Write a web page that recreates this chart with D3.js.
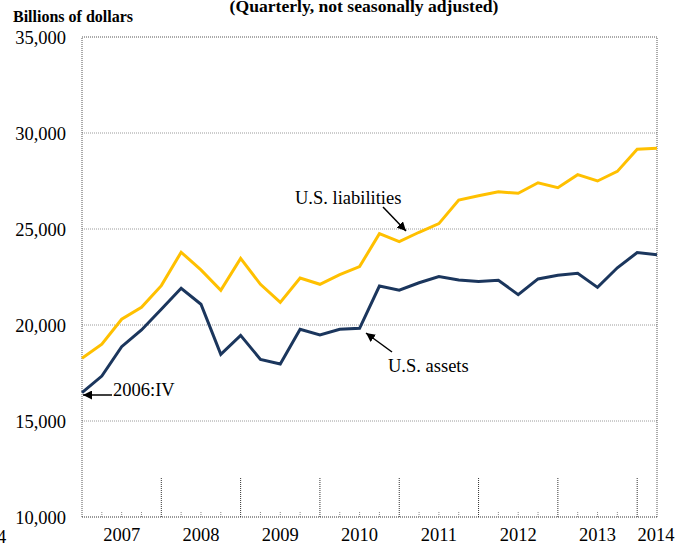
<!DOCTYPE html>
<html>
<head>
<meta charset="utf-8">
<script src="https://cdn.jsdelivr.net/npm/d3@7"></script>
</head>
<body style="margin:0; background:#fff">
<div id="chart"></div>
<script>
// quarterly, 2006:IV through 2014:I
const quarters = ["2006:IV",
	"2007:I", "2007:II", "2007:III", "2007:IV",
	"2008:I", "2008:II", "2008:III", "2008:IV",
	"2009:I", "2009:II", "2009:III", "2009:IV",
	"2010:I", "2010:II", "2010:III", "2010:IV",
	"2011:I", "2011:II", "2011:III", "2011:IV",
	"2012:I", "2012:II", "2012:III", "2012:IV",
	"2013:I", "2013:II", "2013:III", "2013:IV",
	"2014:I"];
const liabilities = [18270, 19000, 20300, 20920, 22050, 23790, 22870, 21810, 23470, 22120,
	21180, 22450, 22120, 22620, 23040, 24760, 24340, 24830, 25280, 26510,
	26730, 26940, 26860, 27410, 27150, 27830, 27500, 28000, 29150, 29200];
const assets = [16480, 17340, 18870, 19740, 20820, 21910, 21080, 18470, 19460, 18210,
	17970, 19780, 19480, 19780, 19830, 22030, 21810, 22200, 22520, 22340,
	22260, 22330, 21580, 22400, 22590, 22690, 21960, 22980, 23770, 23660];
const yearLabels = ["2007", "2008", "2009", "2010", "2011", "2012", "2013", "2014"];
const yTicks = [10000, 15000, 20000, 25000, 30000, 35000];

const width = 681, height = 546;
const serif = "'Liberation Serif'";
const svg = d3.select("#chart").append("svg")
	.attr("width", width)
	.attr("height", height);

const x = d3.scaleLinear().domain([0, quarters.length - 1]).range([82, 657]);
const y = d3.scaleLinear().domain([10000, 35000]).range([517, 37]);

// gridlines
svg.append("g")
	.selectAll("line")
	.data(yTicks.slice(1, -1))
	.enter().append("line")
	.attr("x1", x(0)).attr("x2", x(quarters.length - 1))
	.attr("y1", d => y(d)).attr("y2", d => y(d))
	.style("stroke", "#9a9a9a")
	.style("stroke-width", 1)
	.style("stroke-dasharray", "1,1");

// frame: top, left, right
svg.append("path")
	.attr("d", "M" + x(0) + "," + y(10000) + "V" + y(35000) + "H" + x(quarters.length - 1) + "V" + y(10000))
	.style("fill", "none")
	.style("stroke", "#555")
	.style("stroke-width", 1)
	.style("stroke-dasharray", "1,1");

// bottom axis line
svg.append("line")
	.attr("x1", x(0)).attr("x2", x(quarters.length - 1))
	.attr("y1", y(10000)).attr("y2", y(10000))
	.style("stroke", "#333")
	.style("stroke-width", 1)
	.style("stroke-dasharray", "1,1");

// quarter ticks: long at year ends, short otherwise
svg.append("g")
	.selectAll("line")
	.data(d3.range(1, quarters.length - 1))
	.enter().append("line")
	.attr("x1", d => x(d)).attr("x2", d => x(d))
	.attr("y1", d => d % 4 === 0 ? y(10000) - 39 : y(10000) - 5)
	.attr("y2", y(10000))
	.style("stroke", d => d % 4 === 0 ? "#333" : "#888")
	.style("stroke-width", 1)
	.style("stroke-dasharray", "1,1");

// y axis labels
const yAxis = d3.axisLeft(y)
	.tickValues(yTicks)
	.tickSize(0)
	.tickPadding(0)
	.tickFormat(d3.format(","));
const gy = svg.append("g")
	.attr("transform", "translate(66,0)")
	.call(yAxis);
gy.select(".domain").remove();
gy.selectAll("text")
	.attr("dy", "0.35em")
	.attr("fill", "#000")
	.style("font-family", serif)
	.style("font-size", "18.5px");

// year labels
svg.append("g")
	.selectAll("text")
	.data(yearLabels)
	.enter().append("text")
	.attr("x", (d, i) => i < 7 ? x(i * 4 + 2) : x(quarters.length - 1) - 1)
	.attr("y", 541)
	.attr("text-anchor", "middle")
	.style("font-family", serif)
	.style("font-size", "18.5px")
	.text(d => d);

// stray fragment at left edge
svg.append("text")
	.attr("x", -3).attr("y", 543)
	.style("font-family", serif)
	.style("font-size", "18.5px")
	.text("4");

// series lines
const line = d3.line()
	.x((d, i) => x(i))
	.y(d => y(d));

svg.append("path")
	.datum(liabilities)
	.attr("d", line)
	.style("fill", "none")
	.style("stroke", "#FFC000")
	.style("stroke-width", 3);

svg.append("path")
	.datum(assets)
	.attr("d", line)
	.style("fill", "none")
	.style("stroke", "#1B365D")
	.style("stroke-width", 3);

// titles
svg.append("text")
	.attr("x", 364).attr("y", 12)
	.attr("text-anchor", "middle")
	.style("font-family", serif)
	.style("font-size", "17.6px")
	.style("font-weight", "bold")
	.text("(Quarterly, not seasonally adjusted)");

svg.append("text")
	.attr("x", 13).attr("y", 22)
	.style("font-family", serif)
	.style("font-size", "16px")
	.style("font-weight", "bold")
	.text("Billions of dollars");

// annotations
svg.append("defs").append("marker")
	.attr("id", "arrow")
	.attr("viewBox", "0 0 10 10")
	.attr("refX", 10).attr("refY", 5)
	.attr("markerWidth", 9).attr("markerHeight", 9)
	.attr("markerUnits", "userSpaceOnUse")
	.attr("orient", "auto")
	.append("path")
	.attr("d", "M0,0L10,5L0,10z")
	.style("fill", "#000");

const notes = [
	{text: "2006:IV", tx: 113, ty: 396, x1: 112, y1: 395, x2: 83, y2: 395},
	{text: "U.S. liabilities", tx: 295, ty: 204, x1: 383, y1: 207, x2: 406, y2: 231},
	{text: "U.S. assets", tx: 388, ty: 372, x1: 392, y1: 352, x2: 366, y2: 333}
];

svg.append("g")
	.selectAll("line")
	.data(notes)
	.enter().append("line")
	.attr("x1", d => d.x1).attr("y1", d => d.y1)
	.attr("x2", d => d.x2).attr("y2", d => d.y2)
	.style("stroke", "#000")
	.style("stroke-width", 1.5)
	.attr("marker-end", "url(#arrow)");

svg.append("g")
	.selectAll("text")
	.data(notes)
	.enter().append("text")
	.attr("x", d => d.tx).attr("y", d => d.ty)
	.style("font-family", serif)
	.style("font-size", "18.5px")
	.text(d => d.text);
</script>
</body>
</html>
